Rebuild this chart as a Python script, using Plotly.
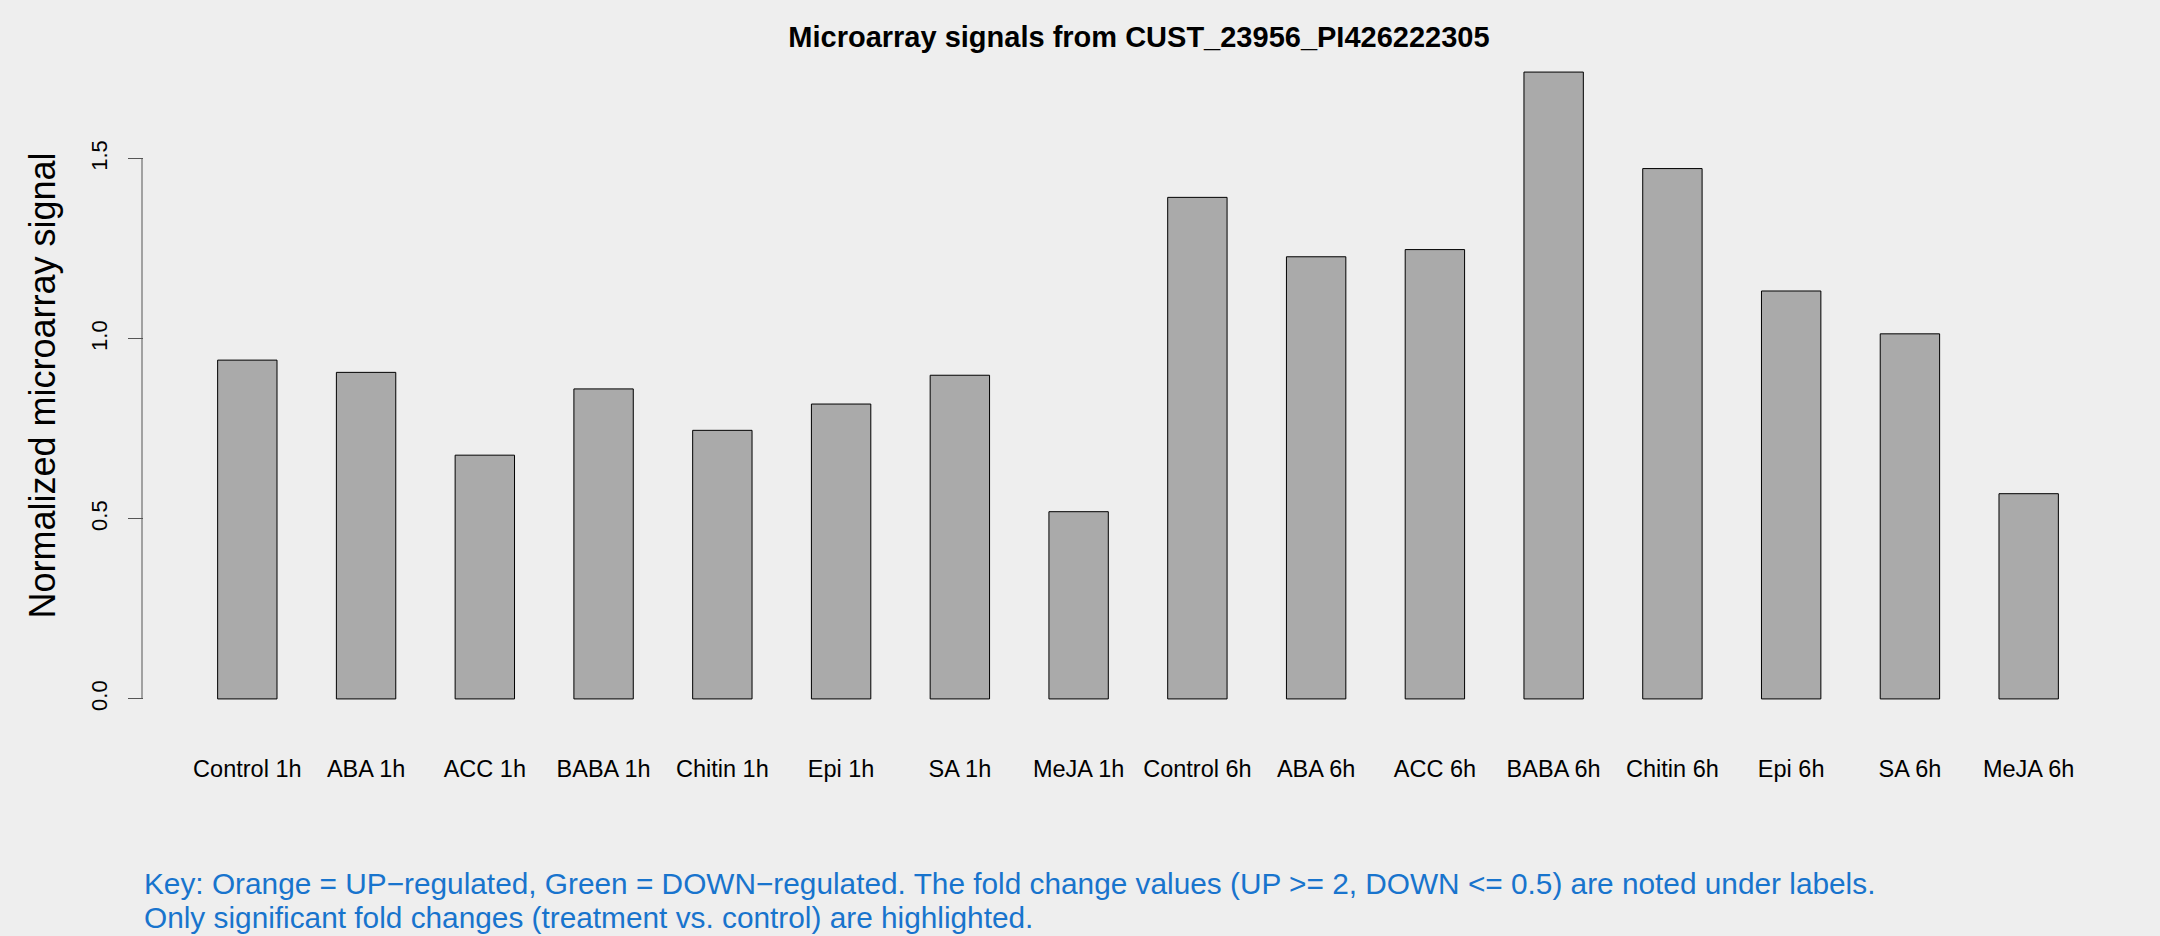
import plotly.graph_objects as go

categories = ["Control 1h", "ABA 1h", "ACC 1h", "BABA 1h", "Chitin 1h", "Epi 1h", "SA 1h", "MeJA 1h",
              "Control 6h", "ABA 6h", "ACC 6h", "BABA 6h", "Chitin 6h", "Epi 6h", "SA 6h", "MeJA 6h"]
signals = [0.941, 0.907, 0.677, 0.861, 0.746, 0.819, 0.899, 0.520,
           1.393, 1.228, 1.248, 1.741, 1.473, 1.133, 1.014, 0.570]
y_ticks = [0.0, 0.5, 1.0, 1.5]
y_tick_labels = ["0.0", "0.5", "1.0", "1.5"]

title = "Microarray signals from CUST_23956_PI426222305"
y_title = "Normalized microarray signal"
key_lines = [
    "Key: Orange = UP\u2212regulated, Green = DOWN\u2212regulated. The fold change values (UP >= 2, DOWN <= 0.5) are noted under labels.",
    "Only significant fold changes (treatment vs. control) are highlighted.",
]

FONT = "Liberation Sans, Arial, Helvetica, sans-serif"
BG = "#EEEEEE"

ymax = max(signals)
ypad = 0.04 * ymax
n = len(categories)
xpad = 0.04 * (2 * n - 1) / 2  # R barplot 4% extension, in category-index units

fig = go.Figure()
fig.add_trace(go.Bar(
    x=categories, y=signals,
    marker=dict(color="#AAAAAA", line=dict(color="#000000", width=1)),
    hoverinfo="x+y",
))

fig.update_layout(
    width=2160, height=936,
    paper_bgcolor=BG, plot_bgcolor=BG,
    margin=dict(l=144, r=28, t=47, b=212),
    bargap=0.5,
    showlegend=False,
    font=dict(family=FONT, color="#000000"),
    title=dict(text="<b>" + title + "</b>", x=0.5273, xanchor="center", y=0.961, yanchor="middle",
               font=dict(size=29, family=FONT, color="#000000")),
)

fig.update_xaxes(
    type="category",
    range=[-0.25 - xpad, n - 1 + 0.25 + xpad],
    showgrid=False, zeroline=False, showline=False,
    ticks="", tickfont=dict(size=23.5, family=FONT, color="#000000"),
    ticklabelstandoff=28,
)

fig.update_yaxes(
    range=[-ypad, ymax + ypad],
    tickvals=y_ticks, ticktext=y_tick_labels,
    tickangle=-90,
    showgrid=False, zeroline=False, showline=False,
    ticks="outside", ticklen=15, tickcolor="#555555", tickwidth=1,
    ticklabelstandoff=12,
    tickfont=dict(size=22, family=FONT, color="#000000"),
    title=dict(text=y_title, font=dict(size=36, family=FONT, color="#000000"), standoff=20),
)

# y-axis line spanning the tick range, like R's axis()
fig.add_shape(type="line", xref="paper", yref="y",
              x0=-0.001, x1=-0.001, y0=y_ticks[0], y1=y_ticks[-1],
              line=dict(color="#555555", width=1))

key_y = [-0.2349, -0.2851]
for line, yy in zip(key_lines, key_y):
    fig.add_annotation(
        text=line, xref="paper", yref="paper",
        x=-0.001, y=yy, xanchor="left", yanchor="middle", align="left", showarrow=False,
        font=dict(size=29.8, family=FONT, color="#1874CD"),
    )

fig.write_html("out.html", config={"displayModeBar": False},
               post_script="document.body.style.margin='0';")
